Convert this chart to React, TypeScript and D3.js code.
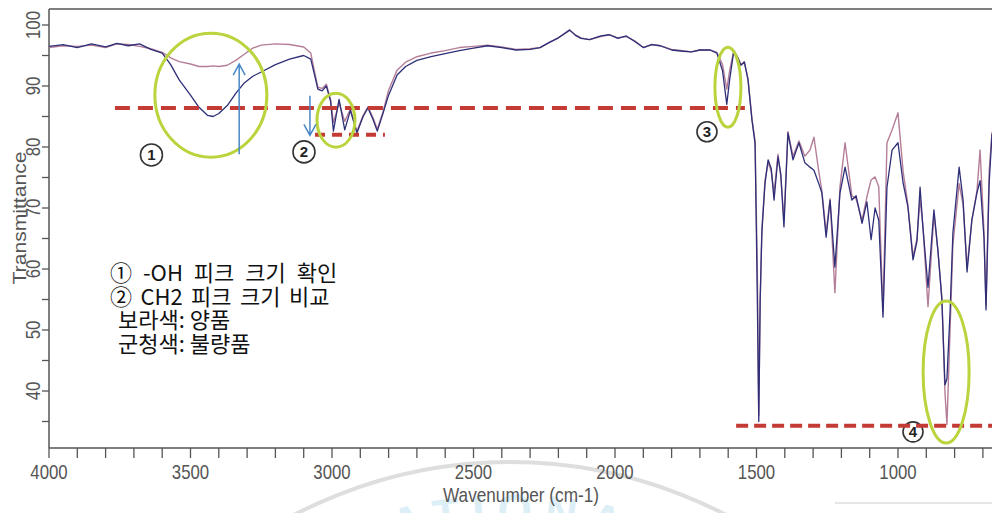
import React from "react";
import * as d3 from "d3";

const W = 992;
const H = 513;

// FT-IR spectra
const wavenumbers = [
  4000, 3950, 3900, 3850, 3800, 3760, 3720, 3680, 3640, 3600,
  3570, 3540, 3500, 3470, 3440, 3420, 3400, 3370, 3340, 3310,
  3280, 3250, 3200, 3150, 3100, 3075, 3060, 3050, 3035, 3020,
  3005, 2995, 2975, 2955, 2935, 2912, 2890, 2873, 2855, 2840,
  2820, 2800, 2770, 2740, 2700, 2650, 2600, 2550, 2500, 2450,
  2400, 2350, 2300, 2265, 2230, 2200, 2160, 2140, 2120, 2090,
  2050, 2020, 1990, 1960, 1930, 1900, 1870, 1840, 1800, 1760,
  1730, 1700, 1664, 1640, 1620, 1605, 1595, 1580, 1565, 1555,
  1543, 1530, 1516, 1505, 1497, 1492, 1487, 1481, 1470, 1459,
  1448, 1438, 1424, 1414, 1403, 1389, 1371, 1350, 1329, 1311,
  1297, 1280, 1269, 1254, 1240, 1223, 1205, 1187, 1163, 1148,
  1127, 1110, 1095, 1081, 1068, 1053, 1039, 1021, 1000, 982,
  965, 947, 933, 922, 912, 894, 873, 859, 845, 834,
  827, 816, 806, 784, 770, 756, 739, 721, 710, 696,
  689, 678, 668, 650,
];

// 군청색: 불량품
const badT = [
  96.5, 96.8, 96.3, 96.9, 96.4, 97.0, 96.6, 96.9, 96.0, 95.4,
  93.5, 91.0, 88.5, 86.5, 85.2, 85.0, 85.5, 86.8, 88.8, 90.5,
  91.6, 92.3, 93.5, 94.4, 95.0, 94.4, 91.5, 89.5, 89.2, 90.0,
  87.5, 82.6, 87.8, 82.8, 86.0, 82.3, 85.0, 86.4, 84.5, 82.6,
  85.5, 88.5, 91.8, 93.2, 94.2, 94.8, 95.3, 95.8, 96.2, 96.6,
  96.3, 95.9, 96.0, 96.3, 97.2, 97.9, 99.2, 98.3, 97.8, 97.6,
  98.2, 98.4, 97.8, 98.2, 97.3, 96.3, 96.8, 96.6, 95.9, 95.7,
  95.6, 95.9, 95.9, 95.4, 92.5, 87.0, 91.0, 95.8, 94.5, 93.4,
  93.9, 91.0, 84.4, 80.5, 55.0, 35.0, 55.0, 66.0, 74.0, 77.9,
  76.5, 71.3, 78.4, 75.5, 66.9, 82.3, 77.9, 80.7, 77.4, 76.7,
  76.2, 74.0, 72.5, 65.2, 71.3, 60.3, 72.5, 76.7, 71.3, 72.0,
  67.5, 71.0, 64.8, 70.0, 68.0, 52.1, 73.4, 79.5, 80.7, 74.1,
  70.2, 61.5, 64.5, 73.4, 66.9, 57.0, 69.7, 63.1, 54.9, 41.0,
  42.0, 53.0, 65.9, 76.7, 71.3, 59.5, 68.0, 72.5, 74.5, 65.0,
  53.3, 74.0, 82.0, 84.0,
];

// 보라색: 양품
const goodT = [
  96.3, 96.6, 96.5, 96.7, 96.3, 96.9, 96.8, 96.5, 96.1, 95.5,
  94.6, 94.0, 93.6, 93.2, 93.2, 93.3, 93.2, 93.4, 94.2, 95.2,
  96.2, 96.7, 96.9, 96.8, 96.4, 95.4, 92.0, 89.8, 89.6, 90.3,
  87.8, 84.0, 87.2, 84.2, 86.2, 82.6, 85.2, 86.6, 84.8, 82.9,
  85.7, 89.3, 92.6, 93.9, 94.8, 95.4, 95.8, 96.3, 96.5, 96.7,
  96.4, 96.0, 96.1, 96.3, 97.2, 97.9, 99.1, 98.4, 97.9, 97.6,
  98.1, 98.4, 97.9, 98.1, 97.4, 96.3, 96.8, 96.6, 96.0, 95.8,
  95.6, 95.9, 95.9, 95.5, 93.5, 89.5, 92.5, 95.8, 94.6, 93.5,
  94.0, 91.2, 84.6, 81.0, 60.0, 36.0, 55.0, 66.5, 74.5, 77.5,
  76.0, 72.5, 78.8, 75.0, 68.0, 82.5, 78.5, 81.0, 78.5, 79.5,
  81.6, 76.0, 72.8, 66.0, 71.5, 56.1, 73.5, 80.7, 72.0, 71.5,
  68.0, 71.8, 74.6, 75.1, 73.5, 53.0, 80.7, 82.8, 85.6, 76.0,
  70.5, 62.0, 65.0, 71.5, 67.0, 53.8, 69.0, 63.0, 55.5, 39.7,
  34.5, 50.0, 64.0, 74.0, 70.5, 60.3, 68.0, 72.8, 79.5, 66.0,
  54.0, 76.0, 82.3, 84.0,
];

const xLabelTicks = [4000, 3500, 3000, 2500, 2000, 1500, 1000];
const xMinorTicks = [
  4000, 3900, 3800, 3700, 3600, 3500, 3400, 3300, 3200, 3100, 3000,
  2900, 2800, 2700, 2600, 2500, 2400, 2300, 2200, 2100, 2000, 1900,
  1800, 1700, 1600, 1500, 1400, 1300, 1200, 1100, 1000, 900, 800, 700,
];
const yLabelTicks = [40, 50, 60, 70, 80, 90, 100];
const yMinorTicks = [35, 45, 55, 65, 75, 85, 95];

const notes = [
  { text: "① -OH 피크 크기 확인", indent: 0, gap: 6 },
  { text: "② CH2 피크 크기 비교", indent: 0, gap: 3.5 },
  { text: "보라색: 양품", indent: 8, gap: 0 },
  { text: "군청색: 불량품", indent: 8, gap: 0 },
];

// annotation marks in data units
const dashLines = [
  { from: 3767, to: 1541, t: 86.4, dash: "15 8" },
  { from: 3060, to: 2813, t: 82.0, dash: "10 7" },
  { from: 1572, to: 640, t: 34.3, dash: "12 6" },
];
const rings = [
  { wn: 3428, t: 88.5, rx: 56, ry: 62 },
  { wn: 2986, t: 84.4, rx: 19, ry: 27 },
  { wn: 1601, t: 89.8, rx: 13, ry: 40 },
  { wn: 830, t: 43.1, rx: 23, ry: 71 },
];
const arrows = [
  { wn: 3328, from: 78.8, to: 93.6 },
  { wn: 3078, from: 88.4, to: 81.9 },
];
const markers = [
  { label: "1", wn: 3638, t: 78.7, r: 11 },
  { label: "2", wn: 3099, t: 79.2, r: 11 },
  { label: "3", wn: 1675, t: 82.5, r: 10 },
  { label: "4", wn: 947, t: 33.3, r: 10 },
];

const AXIS = "#555";
const LABEL_FONT = "'Liberation Sans', Arial, sans-serif";

export default function App() {
  const x = d3.scaleLinear().domain([4000, 1000]).range([49, 898]);
  const y = d3.scaleLinear().domain([40, 100]).range([391, 25]);
  const left = 49;
  const top = 9;
  const bottom = 448;

  const line = d3
    .line<number>()
    .x((_, i) => x(wavenumbers[i]))
    .y((d) => y(d));

  return (
    <svg
      width={W}
      height={H}
      style={{ position: "fixed", left: 0, top: 0, background: "#fff" }}
    >
      <defs>
        <clipPath id="plot">
          <rect x={left} y={top} width={W - left} height={bottom - top} />
        </clipPath>
        <path id="wm" d="M 80 955 A 430 430 0 0 1 940 955" />
      </defs>

      {/* faint scan watermark */}
      <circle cx={510} cy={929} r={467} fill="none" stroke="#dedede" strokeWidth={4} />
      <text fontFamily={LABEL_FONT} fontWeight="bold" fontSize={44} fill="#dceef6" letterSpacing={12}>
        <textPath href="#wm" startOffset="50%" textAnchor="middle">
          NATIONAL
        </textPath>
      </text>
      <line x1={835} x2={W} y1={503} y2={503} stroke="#e6e6e6" strokeWidth={2} />

      {/* frame */}
      <line x1={left} x2={W} y1={top} y2={top} stroke={AXIS} strokeWidth={1.5} />
      <line x1={left} x2={left} y1={top} y2={bottom} stroke={AXIS} strokeWidth={1.5} />
      <line x1={left} x2={W} y1={bottom} y2={bottom} stroke={AXIS} strokeWidth={1.5} />

      {xMinorTicks.map((v) => (
        <line key={"xt" + v} x1={x(v)} x2={x(v)} y1={bottom} y2={bottom + 10} stroke={AXIS} strokeWidth={1.3} />
      ))}
      {xLabelTicks.map((v) => (
        <text
          key={"xl" + v}
          transform={`translate(${x(v)},479) scale(0.84,1)`}
          textAnchor="middle"
          fontFamily={LABEL_FONT}
          fontSize={20}
          fill={AXIS}
        >
          {v}
        </text>
      ))}
      {[...yLabelTicks, ...yMinorTicks].map((v) => (
        <line key={"yt" + v} x1={left - 7} x2={left} y1={y(v)} y2={y(v)} stroke={AXIS} strokeWidth={1.3} />
      ))}
      {yLabelTicks.map((v) => (
        <text
          key={"yl" + v}
          transform={`translate(40,${y(v)}) rotate(-90) scale(0.84,1)`}
          textAnchor="middle"
          fontFamily={LABEL_FONT}
          fontSize={20}
          fill={AXIS}
        >
          {v}
        </text>
      ))}
      <text
        transform="translate(26,218) rotate(-90)"
        textAnchor="middle"
        fontFamily={LABEL_FONT}
        fontSize={19}
        fill={AXIS}
        textLength={133}
        lengthAdjust="spacingAndGlyphs"
      >
        Transmittance
      </text>
      <text
        transform="translate(521,502) scale(0.86,1)"
        textAnchor="middle"
        fontFamily={LABEL_FONT}
        fontSize={20}
        fill={AXIS}
      >
        Wavenumber (cm-1)
      </text>

      {/* spectra */}
      <g clipPath="url(#plot)" fill="none" strokeLinejoin="round">
        <path d={line(goodT) ?? ""} stroke="#b47e98" strokeWidth={1.4} />
        <path d={line(badT) ?? ""} stroke="#2e2f78" strokeWidth={1.3} />
      </g>

      {/* markers behind the dashed lines */}
      {markers.map((m) => (
        <g key={"m" + m.label} transform={`translate(${x(m.wn)},${y(m.t)})`}>
          <circle r={m.r} fill="#fff" stroke="#333" strokeWidth={1.6} />
          <text
            y={5.5}
            textAnchor="middle"
            fontFamily={LABEL_FONT}
            fontWeight="bold"
            fontSize={15}
            fill="#222"
          >
            {m.label}
          </text>
        </g>
      ))}

      {dashLines.map((d, i) => (
        <line
          key={"d" + i}
          x1={x(d.from)}
          x2={Math.min(x(d.to), W)}
          y1={y(d.t)}
          y2={y(d.t)}
          stroke="#c43b35"
          strokeWidth={4}
          strokeDasharray={d.dash}
        />
      ))}

      {rings.map((r, i) => (
        <ellipse
          key={"r" + i}
          cx={x(r.wn)}
          cy={y(r.t)}
          rx={r.rx}
          ry={r.ry}
          fill="none"
          stroke="#b9d43c"
          strokeWidth={3}
        />
      ))}

      {arrows.map((a, i) => {
        const ax = x(a.wn);
        const y0 = y(a.from);
        const y1 = y(a.to);
        const dir = y1 < y0 ? 1 : -1;
        return (
          <path
            key={"a" + i}
            d={`M${ax},${y0} L${ax},${y1} M${ax - 6},${y1 + dir * 11} L${ax},${y1} L${ax + 6},${y1 + dir * 11}`}
            fill="none"
            stroke="#4a88c8"
            strokeWidth={1.5}
          />
        );
      })}

      {/* notes */}
      {notes.map((n, i) => (
        <text
          key={"n" + i}
          x={110 + n.indent}
          y={281 + i * 23.6}
          fontFamily="'Noto Sans CJK KR', sans-serif"
          fontSize={22}
          fill="#111"
          wordSpacing={n.gap}
        >
          {n.text}
        </text>
      ))}
    </svg>
  );
}
